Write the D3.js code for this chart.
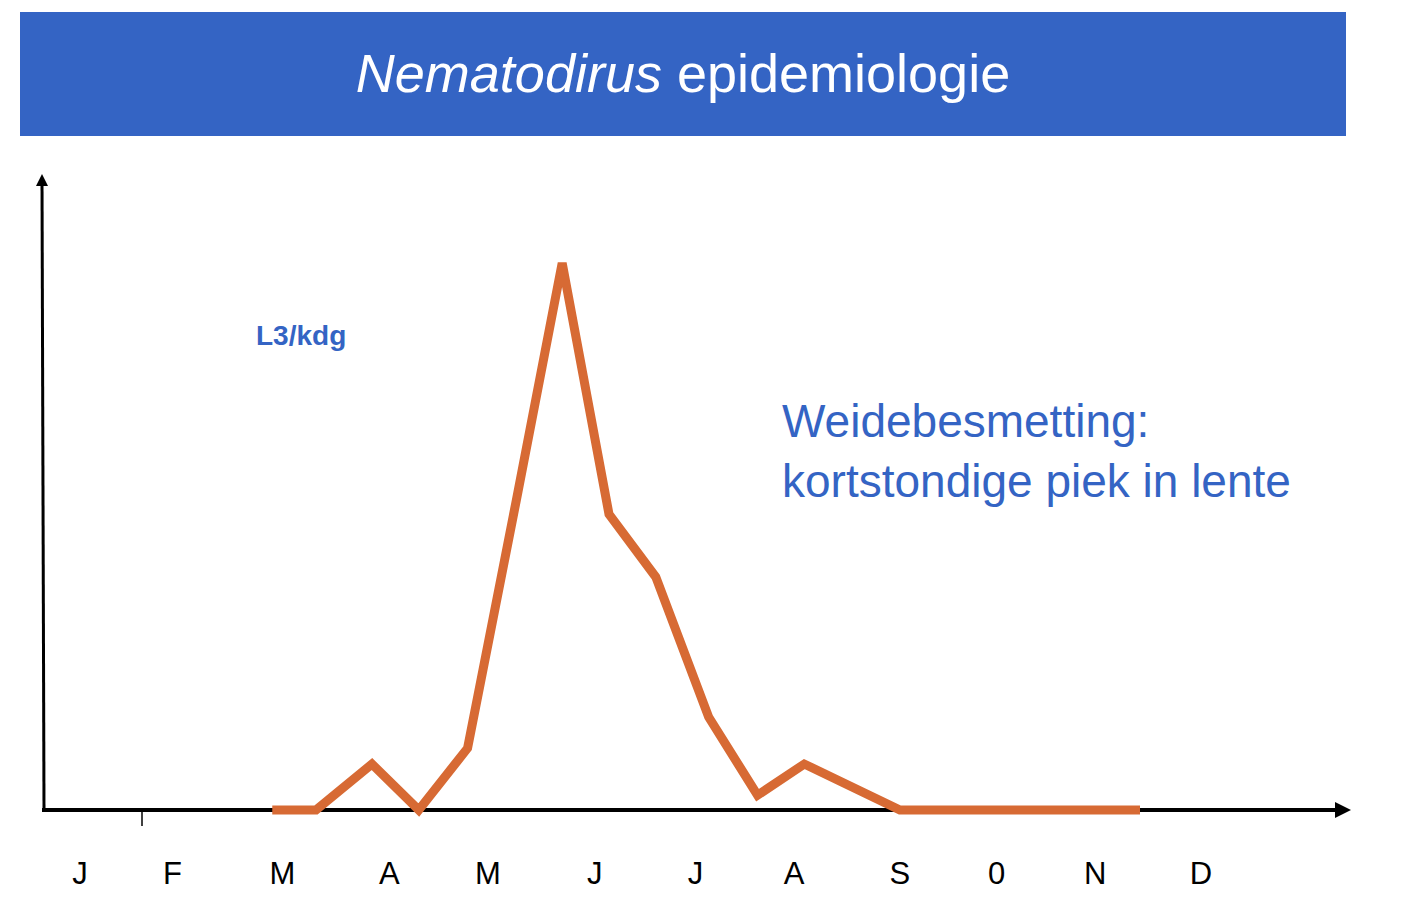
<!DOCTYPE html><html><head><meta charset="utf-8">
<script src="https://cdn.jsdelivr.net/npm/d3@7"></script>
<style>body{margin:0;background:#fff}</style></head><body>
<script>
const months=["J","F","M","A","M","J","J","A","S","0","N","D"];
const monthPos=[0,0.91,1.99,3.04,4.01,5.06,6.05,7.02,8.06,9.01,9.98,11.02];
const curveX=[1.89,2.32,2.87,3.33,3.81,4.29,4.74,5.20,5.66,6.18,6.66,7.12,8.06,10.42];
const curveY=[0,0,8.4,0,11.3,56.7,100,54.1,42.6,17,2.7,8.4,0,0];
const title1="Nematodirus", title2=" epidemiologie";
const yLabel="L3/kdg";
const note=["Weidebesmetting:","kortstondige piek in lente"];

const W=1415,H=907,blue="#3464c4",orange="#d76a34";
const svg=d3.select("body").append("svg").attr("width",W).attr("height",H).style("font-family","Liberation Sans, Arial, sans-serif");
svg.append("rect").attr("x",20).attr("y",12).attr("width",1326).attr("height",124).attr("fill",blue);
const t=svg.append("text").attr("x",683).attr("y",92).attr("text-anchor","middle").attr("fill","#fff").attr("font-size",54);
t.append("tspan").attr("font-style","italic").text(title1);
t.append("tspan").text(title2);

const x=d3.scaleLinear().domain([0,11]).range([80,1199]);
const y=d3.scaleLinear().domain([0,100]).range([810,263]);

svg.append("defs").append("marker").attr("id","ar").attr("viewBox","0 0 10 10").attr("refX",5).attr("refY",5)
 .attr("markerWidth",4).attr("markerHeight",4).attr("orient","auto").append("path").attr("d","M0,0L10,5L0,10z").attr("fill","#000");
svg.append("line").attr("x1",42).attr("y1",810).attr("x2",1343).attr("y2",810).attr("stroke","#000").attr("stroke-width",4).attr("marker-end","url(#ar)");
svg.append("line").attr("x1",44).attr("y1",810).attr("x2",42).attr("y2",180).attr("stroke","#000").attr("stroke-width",3).attr("marker-end","url(#ar)");
svg.append("line").attr("x1",142).attr("x2",142).attr("y1",810).attr("y2",826).attr("stroke","#000").attr("stroke-width",1.5);

svg.selectAll(".m").data(months).join("text").attr("x",(d,i)=>x(monthPos[i])).attr("y",884)
 .attr("text-anchor","middle").attr("font-size",31).attr("fill","#000").text(d=>d);

const pts=curveX.map((v,i)=>[v,curveY[i]]);
svg.append("path").attr("d",d3.line().x(d=>x(d[0])).y(d=>y(d[1]))(pts)).attr("fill","none")
 .attr("stroke",orange).attr("stroke-width",9).attr("stroke-linejoin","miter");

svg.append("text").attr("x",256).attr("y",345).attr("fill",blue).attr("font-size",28).attr("font-weight","bold").text(yLabel);
svg.selectAll(".n").data(note).join("text").attr("x",782).attr("y",(d,i)=>437+i*60).attr("fill",blue).attr("font-size",46).text(d=>d);
</script></body></html>
